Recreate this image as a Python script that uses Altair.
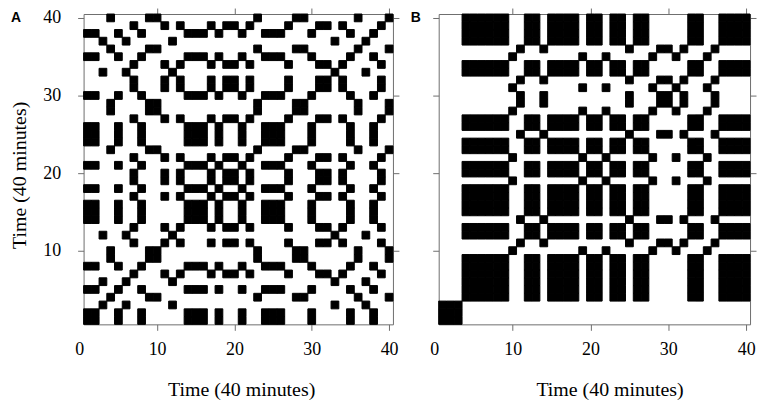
import altair as alt
import pandas as pd

# ---------------- data ----------------
times = list(range(1, 41))
axis_ticks = [10, 20, 30, 40]
x_zero_label = ["0"]
axis_title = "Time (40 minutes)"
panel_letters = ["A", "B"]

# symbolic state of each minute (recurrence = same state)
states_a = ["P", "P", "T", "Q", "P", "T", "R", "P", "Q", "Q",
            "R", "T", "R", "P", "P", "P", "R", "P", "R", "R",
            "P", "R", "Q", "P", "P", "P", "R", "Q", "Q", "P",
            "R", "R", "T", "R", "P", "Q", "T", "P", "R", "Q"]
states_b = ["C", "C", "C", "S", "S", "S", "S", "S", "S", "A",
            "B", "S", "S", "B", "S", "S", "S", "S", "A", "S",
            "S", "A", "S", "S", "B", "S", "S", "A", "B", "B",
            "A", "B", "S", "S", "A", "B", "S", "S", "S", "S"]

# ---------------- style ----------------
SERIF = "Liberation Serif"
SANS = "Liberation Sans"
FRAME = "#6e6e6e"
H = 312


def recurrence_frame(states):
    recs = []
    for ti, si in zip(times, states):
        for tj, sj in zip(times, states):
            if si == sj:
                recs.append({"x0": tj - 0.5, "x1": tj + 0.5,
                             "y0": ti - 0.5, "y1": ti + 0.5})
    return pd.DataFrame(recs)


def base_axis(**kw):
    d = dict(values=axis_ticks, grid=False, tickSize=6, tickColor=FRAME,
             tickWidth=1, domainColor=FRAME, domainWidth=1,
             labelFont=SERIF, labelFontSize=18, labelColor="black",
             titleFont=SERIF, titleFontSize=20, titleFontWeight="normal",
             titleColor="black")
    d.update(kw)
    return alt.Axis(**d)


def panel(states, letter, width, with_y_labels, title_x, letter_x):
    xs = alt.Scale(domain=[0.5, 40.5], nice=False, zero=False)
    ys = alt.Scale(domain=[0.5, 40.5], nice=False, zero=False)

    bottom = base_axis(orient="bottom", title=axis_title, labelPadding=10,
                       titleX=title_x, titleY=72, titleBaseline="alphabetic")
    if with_y_labels:
        left = base_axis(orient="left", title=axis_title, labelPadding=17,
                         titleX=-58, titleY=161.7, titleBaseline="alphabetic")
    else:
        left = base_axis(orient="left", title=None, labels=False)
    top = base_axis(orient="top", title=None, labels=False)
    right = base_axis(orient="right", title=None, labels=False)

    rects = alt.Chart(recurrence_frame(states)).mark_rect(
        color="black", stroke="black", strokeWidth=1
    ).encode(
        x=alt.X("x0:Q", scale=xs, axis=bottom),
        x2="x1:Q",
        y=alt.Y("y0:Q", scale=ys, axis=left),
        y2="y1:Q",
    )

    mirror = alt.Chart(pd.DataFrame({"v": axis_ticks})).mark_point(opacity=0).encode(
        x=alt.X("v:Q", scale=xs, axis=top),
        y=alt.Y("v:Q", scale=ys, axis=right),
    )

    zero = alt.Chart(pd.DataFrame({"v": [0], "t": x_zero_label})).mark_text(
        font=SERIF, fontSize=18, baseline="top", align="center", color="black"
    ).encode(
        x=alt.X("v:Q", scale=xs, axis=None),
        y=alt.value(H + 16.5),
        text="t:N",
    )

    tag = alt.Chart(pd.DataFrame({"t": [letter]})).mark_text(
        font=SANS, fontWeight="bold", fontSize=14, align="left",
        baseline="alphabetic", color="black"
    ).encode(
        x=alt.value(letter_x),
        y=alt.value(8.5),
        text="t:N",
    )

    return alt.layer(rects, mirror, zero, tag).resolve_axis(
        x="independent", y="independent"
    ).properties(width=width, height=H)


pa = panel(states_a, panel_letters[0], 311, True, 158.4, -73)
pb = panel(states_b, panel_letters[1], 313, False, 171.7, -28)

chart = alt.hconcat(pa, pb, spacing=46, bounds="flush").configure_view(
    stroke=None
).properties(
    padding={"left": 2, "top": -2, "right": 0, "bottom": 0},
    background="white",
)

chart.save("out.html", embed_options={"renderer": "svg", "actions": False})
